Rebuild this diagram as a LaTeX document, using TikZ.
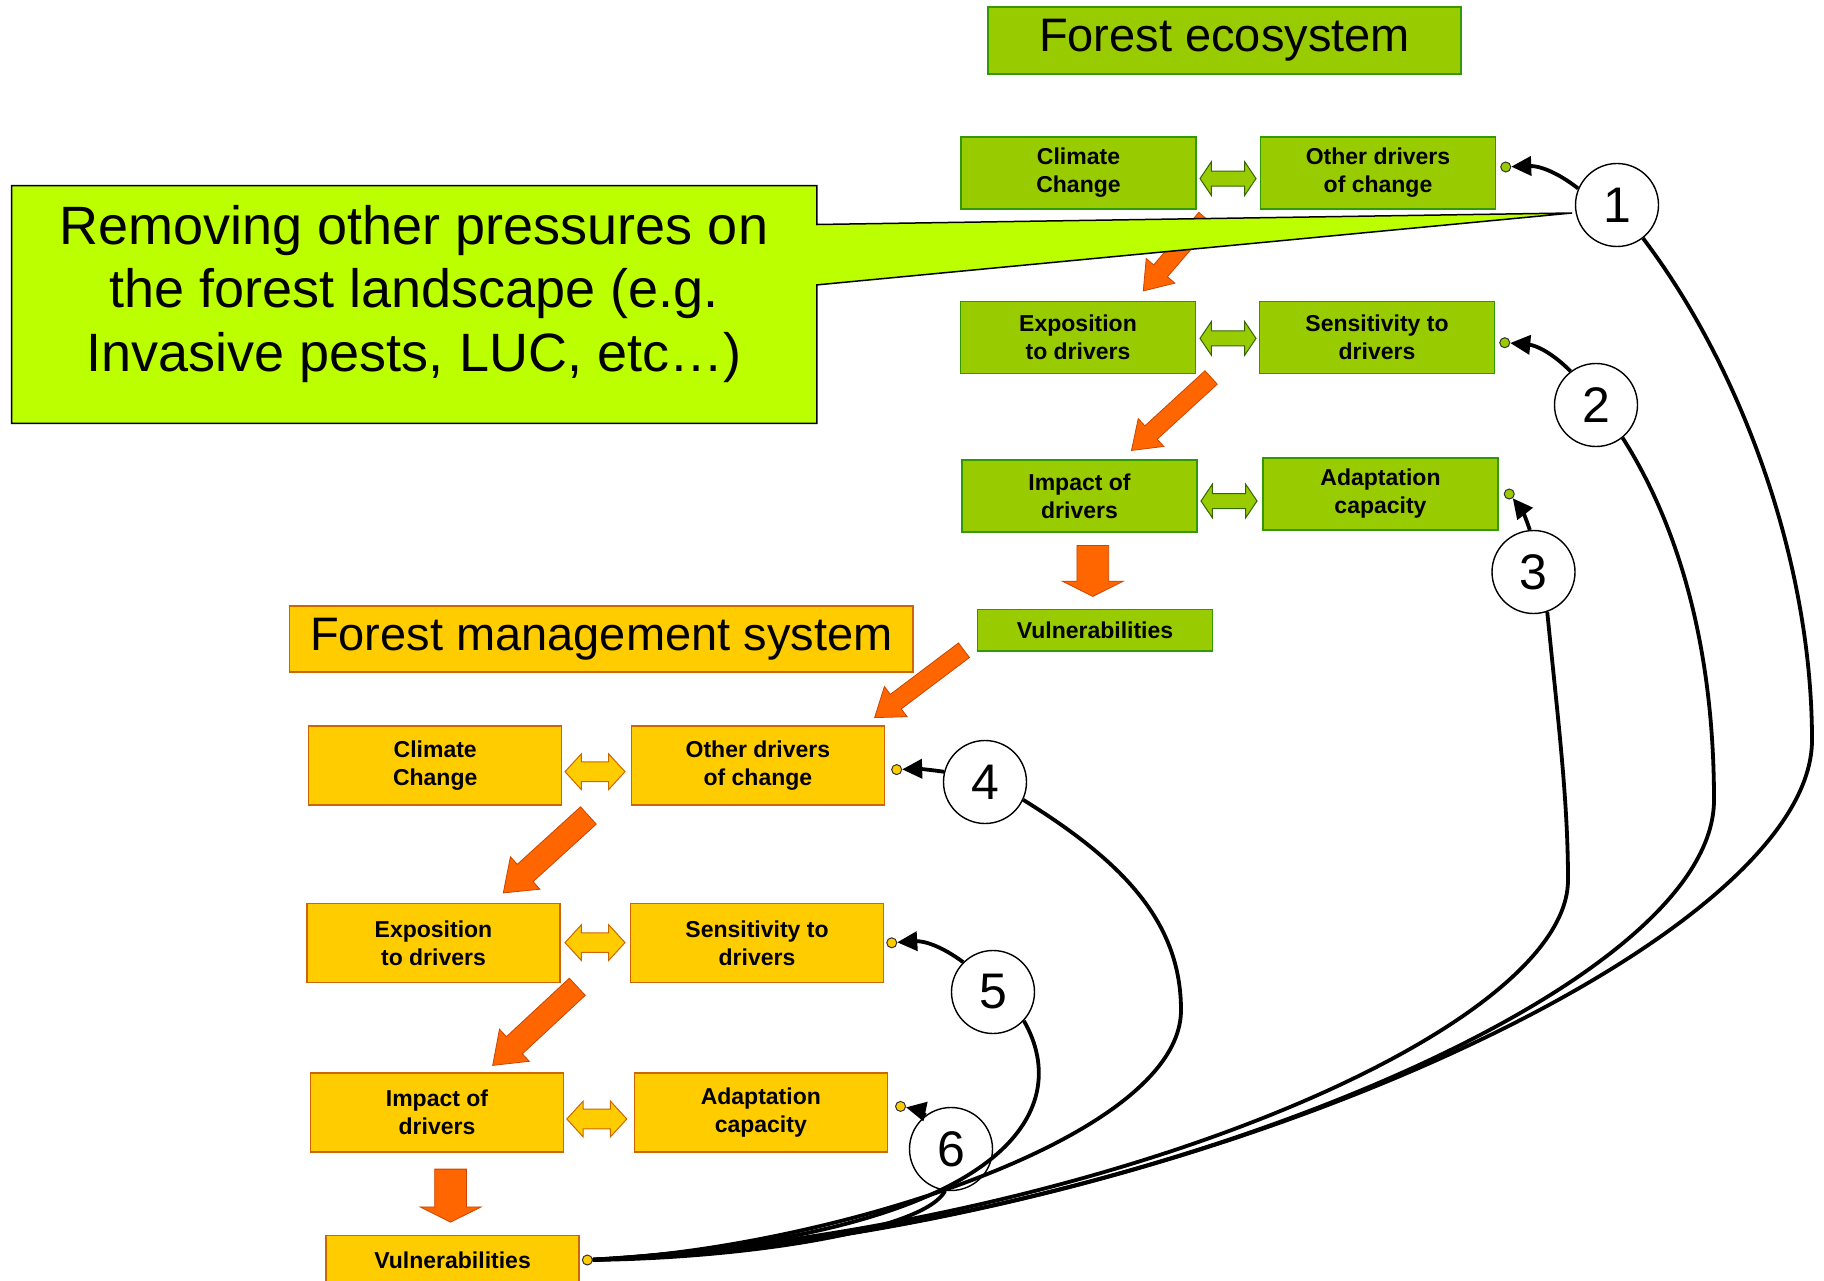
\documentclass[tikz,border=0pt]{standalone}
\usepackage{fontspec}
\setmainfont{Liberation Sans}
\usetikzlibrary{arrows.meta,shapes.arrows,positioning}
\definecolor{ecogreen}{RGB}{153,204,0}
\definecolor{ecoedge}{RGB}{51,153,0}
\definecolor{ecodark}{RGB}{51,102,0}
\definecolor{mgmtyellow}{RGB}{255,204,0}
\definecolor{mgmtedge}{RGB}{204,102,0}
\definecolor{floworange}{RGB}{255,102,0}
\definecolor{flowedge}{RGB}{204,68,0}
\definecolor{calloutlime}{RGB}{187,255,0}
\tikzset{
  ecobox/.style={draw=ecoedge, fill=ecogreen, line width=1.5pt, minimum width=235pt, minimum height=72pt, inner sep=0pt, align=center, font=\fontsize{23}{28}\selectfont\bfseries},
  mgmtbox/.style={draw=mgmtedge, fill=mgmtyellow, line width=1.5pt, minimum width=253pt, minimum height=79pt, inner sep=0pt, align=center, font=\fontsize{23}{28}\selectfont\bfseries},
  headline/.style={line width=1.5pt, inner sep=0pt, font=\fontsize{47}{56}\selectfont},
  ecotwin/.style={double arrow, draw=ecodark, fill=ecogreen, line width=1pt, inner xsep=0pt, inner ysep=7pt, minimum height=56pt, double arrow head extend=9.3pt, double arrow tip angle=112},
  mgmttwin/.style={double arrow, draw=mgmtedge, fill=mgmtyellow, line width=1pt, inner xsep=0pt, inner ysep=9.3pt, minimum height=60pt, double arrow head extend=8pt, double arrow tip angle=95},
  flow/.style={single arrow, draw=flowedge, fill=floworange, line width=0.8pt, inner xsep=0pt, anchor=tail},
  thinflow/.style={flow, inner ysep=8.7pt, single arrow head extend=9.8pt, single arrow tip angle=71},
  wideflow/.style={flow, inner ysep=11.3pt, single arrow head extend=10.2pt, single arrow tip angle=73},
  dropflow/.style={flow, inner ysep=15.5pt, single arrow head extend=14.5pt, single arrow tip angle=127},
  ecodot/.style={circle, draw=black!80, fill=ecogreen, line width=1pt, inner sep=0pt, minimum size=10pt},
  mgmtdot/.style={ecodot, fill=mgmtyellow},
  numcircle/.style={circle, draw, fill=white, line width=1.4pt, inner sep=0pt, minimum size=83pt, font=\fontsize{50}{50}\selectfont},
  feedback/.style={line width=3.8pt},
  pointer/.style={line width=3.8pt, -{Triangle[length=20pt,width=19pt]}},
}
\begin{document}
\begin{tikzpicture}[x=1pt,y=-1pt]
    \path[fill=white, use as bounding box] (0,0) rectangle (1824,1281);
    \node[headline, draw=ecoedge, fill=ecogreen, minimum width=473pt, minimum height=67pt] (ecotitle) at (1224.5,40.5) {Forest ecosystem};
    \node[ecobox] (cc1) at (1078.5,173) {Climate\\Change};
    \node[ecobox] (od1) at (1378,173) {Other drivers\\of change};
    \node[ecobox] (ex1) at (1078,337.7) {Exposition\\to drivers};
    \node[ecobox] (se1) at (1377,337.7) {Sensitivity to\\drivers};
    \node[ecobox] (im1) at (1079.5,496) {Impact of\\drivers};
    \node[ecobox] (ad1) at (1380.5,494) {Adaptation\\capacity};
    \node[ecobox, minimum height=41.5pt] (vu1) at (1095,630.3) {Vulnerabilities};
    \node[ecotwin] (tw1) at (1228,178.6) {};
    \node[ecotwin] (tw2) at (1228,338.4) {};
    \node[ecotwin] (tw3) at (1229,501) {};
    \node[headline, draw=mgmtedge, fill=mgmtyellow, minimum width=623.5pt, minimum height=66pt] (mgmttitle) at (601.3,639) {Forest management system};
    \node[mgmtbox] (cc2) at (435.2,765.6) {Climate\\Change};
    \node[mgmtbox] (od2) at (757.9,765.6) {Other drivers\\of change};
    \node[mgmtbox] (ex2) at (433.5,942.8) {Exposition\\to drivers};
    \node[mgmtbox] (se2) at (757,942.8) {Sensitivity to\\drivers};
    \node[mgmtbox] (im2) at (437,1112.4) {Impact of\\drivers};
    \node[mgmtbox] (ad2) at (760.8,1112.4) {Adaptation\\capacity};
    \node[mgmtbox, minimum height=49pt] (vu2) at (452.6,1260) {Vulnerabilities};
    \node[mgmttwin] (tw4) at (595,771.7) {};
    \node[mgmttwin] (tw5) at (595,942.6) {};
    \node[mgmttwin] (tw6) at (596.8,1119) {};
    \node[thinflow, rotate=229.3, minimum height=95.8pt] (flow1) at (1206,218) {};
    \node[thinflow, rotate=222.5, minimum height=108pt] (flow2) at (1211.4,377.2) {};
    \node[dropflow, rotate=-90, minimum height=51pt] (flow3) at (1092.8,545) {};
    \node[thinflow, rotate=217, minimum height=111.9pt] (flow4) at (964.3,650) {};
    \node[wideflow, rotate=222.3, minimum height=115.1pt] (flow5) at (588.7,815.2) {};
    \node[wideflow, rotate=222.9, minimum height=115.5pt] (flow6) at (577.6,986.5) {};
    \node[dropflow, rotate=-90, minimum height=53pt] (flow7) at (450.6,1168.7) {};
    \coordinate (calltip) at (1572,213);
    \filldraw[fill=calloutlime, line width=1.5pt] (11.6,185.7) -- (816.9,185.7) -- (816.9,224.5) -- (calltip) -- (816.9,284.9) -- (816.9,423.3) -- (11.6,423.3) -- cycle;
    \node[align=center, font=\fontsize{54}{63.4}\selectfont] (pressures) at (414,294) {Removing other pressures on\\the forest landscape (e.g.\\Invasive pests, LUC, etc…)};
    \node[numcircle] (c1) at (1617,205) {1};
    \node[numcircle] (c2) at (1596,405) {2};
    \node[numcircle] (c3) at (1533.5,572) {3};
    \node[numcircle] (c4) at (985,782) {4};
    \node[numcircle] (c5) at (993,992) {5};
    \node[numcircle] (c6) at (951,1149) {6};
    \node[ecodot, right=4pt of od1, yshift=6pt] (od1dot) {};
    \node[ecodot, right=4pt of se1, yshift=-5pt] (se1dot) {};
    \node[ecodot, right=5pt of ad1] (ad1dot) {};
    \node[mgmtdot, right=6pt of od2, yshift=-4pt] (od2dot) {};
    \node[mgmtdot, right=2pt of se2] (se2dot) {};
    \node[mgmtdot, right=7pt of ad2, yshift=6pt] (ad2dot) {};
    \node[mgmtdot, right=2pt of vu2] (vu2dot) {};
    \draw[pointer] (c1.157) to[bend right=20] (od1dot);
    \draw[pointer] (c2.127) to[bend right=20] (se1dot);
    \draw[pointer] (c3.95) to[bend right=10] (ad1dot);
    \draw[pointer] (c4.166) to[bend right=5] (od2dot);
    \draw[pointer] (c5.135) to[bend right=20] (se2dot);
    \draw[pointer] (c6.127) to[bend right=10] (ad2dot);
    \draw[feedback] (c1.-52) .. controls (1740,366) and (1812,560) .. (1812,740) .. controls (1812,950) and (1150,1240) .. (vu2dot);
    \draw[feedback] (c2.-51) .. controls (1675,520) and (1714,640) .. (1714,800) .. controls (1714,1000) and (1100,1240) .. (vu2dot);
    \draw[feedback] (c3.-71) .. controls (1558,720) and (1568,800) .. (1568,880) .. controls (1568,1030) and (1100,1230) .. (vu2dot);
    \draw[feedback] (c4.-25) .. controls (1120,860) and (1181,920) .. (1181,1010) .. controls (1181,1140) and (820,1250) .. (vu2dot);
    \draw[feedback] (c5.-43) .. controls (1075,1110) and (1010,1235) .. (vu2dot);
    \draw[feedback] (c6.-98) .. controls (925,1230) and (750,1258) .. (vu2dot);
\end{tikzpicture}
\end{document}
